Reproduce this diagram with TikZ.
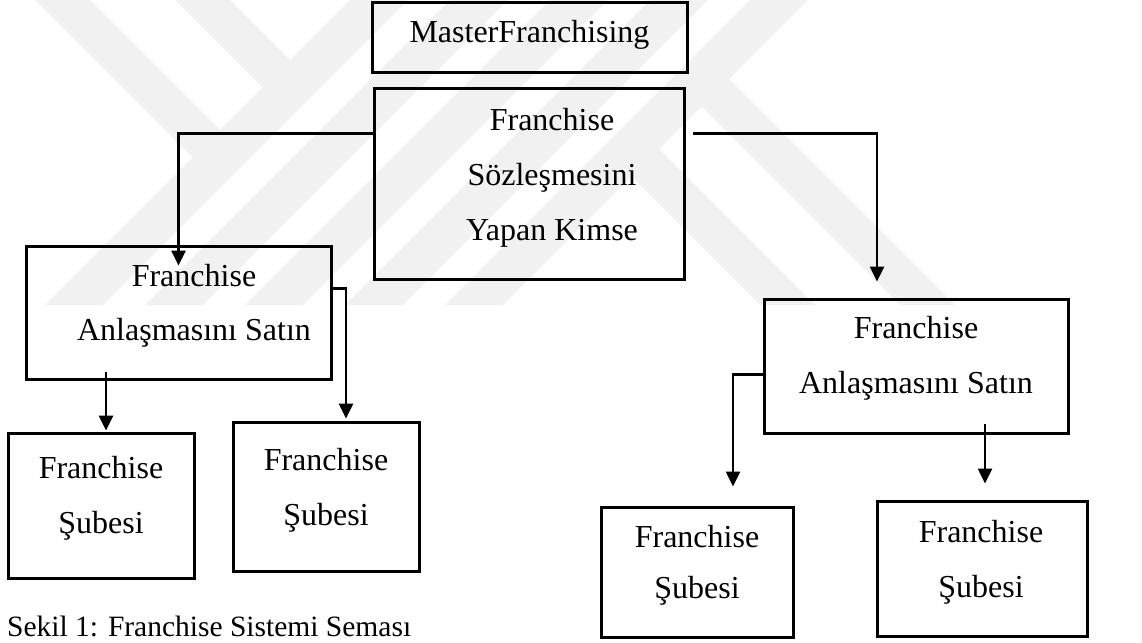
\documentclass[tikz,border=0pt]{standalone}
\usepackage{fontspec}
\setmainfont{Liberation Serif}
\usetikzlibrary{arrows.meta}
\definecolor{wmgray}{HTML}{F1F1F1}
\begin{document}
\begin{tikzpicture}[x=1pt,y=-1pt,
  box/.style 2 args={draw,line width=3pt,minimum width=#1,minimum height=#2,inner sep=0pt},
  txt/.style={anchor=base,inner sep=0pt,font=\fontsize{32}{38}\selectfont},
  conn/.style={line width=2.6pt,-{Triangle[length=15pt,width=14pt]}},
  wm/.style={fill=wmgray}]
\useasboundingbox (0,0) rectangle (1142,642);
% watermark
\foreach \a in {350,450,550,650,750}
  \fill[wm] (\a,0) -- ({\a+58},0) -- ({\a+58-305},305) -- ({\a-305},305) -- cycle;
\fill[wm] (35,0) -- (90,0) -- (235,145) -- (207.5,172.5) -- cycle;
\fill[wm] (175,0) -- (230,0) -- (305,75) -- (277.5,102.5) -- cycle;
\fill[wm] (617.5,162.5) -- (645,135) -- (815,305) -- (760,305) -- cycle;
\fill[wm] (687.5,92.5) -- (715,65) -- (955,305) -- (900,305) -- cycle;
% boxes
\node[box={315pt}{69pt}] (master) at (529.5,37.5) {};
\node[box={310pt}{191pt}] (main) at (529,183.5) {};
\node[box={305pt}{133pt}] (A) at (178.5,312.5) {};
\node[box={186pt}{145pt}] (A1) at (101,505.5) {};
\node[box={186pt}{149pt}] (A2) at (326,496.5) {};
\node[box={304pt}{134pt}] (B) at (916,366) {};
\node[box={192pt}{130pt}] (B1) at (697,572) {};
\node[box={210pt}{135pt}] (B2) at (982,568.5) {};
% texts
\node[txt] (tm) at (529.5,43) {MasterFranchising};
\node[txt] (t1a) at (552,130) {Franchise};
\node[txt] (t1b) at (552,185) {Sözleşmesini};
\node[txt] (t1c) at (552,240) {Yapan Kimse};
\node[txt] (tAa) at (194,286) {Franchise};
\node[txt] (tAb) at (194,340) {Anlaşmasını Satın};
\node[txt] (tA1a) at (101,478) {Franchise};
\node[txt] (tA1b) at (101,533) {Şubesi};
\node[txt] (tA2a) at (326,470) {Franchise};
\node[txt] (tA2b) at (326,525) {Şubesi};
\node[txt] (tBa) at (916,338) {Franchise};
\node[txt] (tBb) at (916,393) {Anlaşmasını Satın};
\node[txt] (tB1a) at (697,547) {Franchise};
\node[txt] (tB1b) at (697,598) {Şubesi};
\node[txt] (tB2a) at (981,542) {Franchise};
\node[txt] (tB2b) at (981,597) {Şubesi};
\node[anchor=base west,inner sep=0pt,font=\fontsize{29.5}{35}\selectfont] (cap) at (7,636) {Sekil 1: Franchise Sistemi Seması};
% connectors
\draw[conn] ([yshift=-47pt]main.north west) -| ([yshift=-21pt]A.north);
\draw[conn] ([xshift=7pt,yshift=-47pt]main.north east) -| ([xshift=-39pt,yshift=16pt]B.north);
\draw[conn] ([yshift=-44pt]A.north east) -| ([xshift=20pt,yshift=2pt]A2.north);
\draw[conn] ([xshift=-72.5pt,yshift=9pt]A.south) -- ([xshift=5pt,yshift=1pt]A1.north);
\draw[conn] ([yshift=-77pt]B.north west) -| ([xshift=36pt,yshift=19pt]B1.north);
\draw[conn] ([xshift=69pt,yshift=11pt]B.south) -- ([xshift=3pt,yshift=16pt]B2.north);
\end{tikzpicture}
\end{document}
